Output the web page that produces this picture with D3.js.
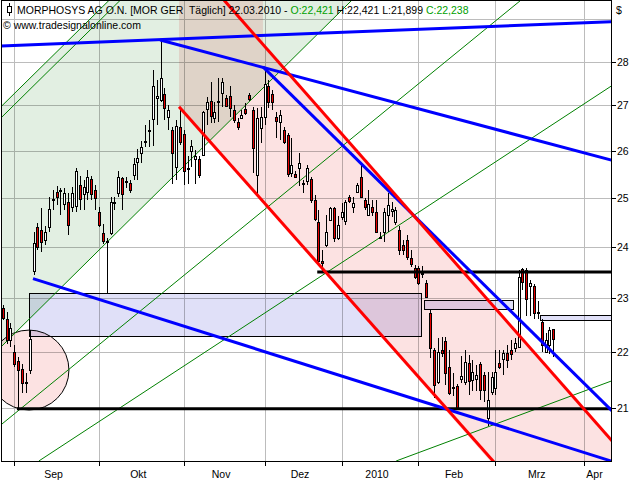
<!DOCTYPE html>
<html><head><meta charset="utf-8">
<script src="https://cdn.jsdelivr.net/npm/d3@7"></script>
<style>
body{margin:0;background:#fff}
svg{display:block}
text{font-family:"Liberation Sans",Arial,sans-serif;font-size:10.5px;fill:#000}
</style>
</head><body><svg id="c" width="640" height="480"></svg>
<script>
// ---- candle data (trading-day index 0 = 27.08.2009) ----
const open=[22.82,22.61,22.22,22.0,21.83,21.69,21.46,21.67,23.52,24.41,
24.35,24.14,24.42,24.95,25.13,25.15,24.89,24.91,24.81,24.82,
25.28,25.1,25.13,25.4,25.17,24.71,24.28,24.13,24.28,24.9,
25.11,25.41,25.34,25.31,25.47,25.76,25.95,26.2,26.43,26.7,
27.16,27.12,27.26,26.75,26.46,25.66,26.52,26.36,25.61,26.0,
25.82,25.83,25.91,26.92,27.1,26.72,27.07,27.28,27.16,27.21,
26.9,26.62,26.72,26.92,27.24,26.9,25.49,26.5,26.74,27.43,
27.26,26.74,26.64,26.46,26.35,25.54,25.51,25.63,25.29,25.35,
25.4,24.96,24.5,23.73,24.04,24.55,24.79,24.18,24.62,24.52,
25.03,24.82,25.14,25.45,24.95,24.65,24.82,24.72,24.2,24.31,
24.65,24.72,24.52,24.35,24.04,24.14,23.78,23.59,23.59,23.46,
23.29,22.72,22.03,21.45,22.03,22.19,21.73,21.35,21.39,21.5,
21.46,21.79,21.48,21.5,21.78,21.58,20.82,21.28,21.34,21.8,
21.87,21.98,22.04,22.06,22.09,23.57,23.54,23.24,23.24,22.72,
22.55,22.0,22.12,22.421];
const high=[22.87,22.73,22.53,22.12,21.9,21.77,21.62,22.4,24.31,24.49,
24.8,24.42,25.03,25.17,25.25,25.2,25.21,25.1,25.23,25.63,
25.47,25.38,25.59,25.47,25.28,24.82,24.47,24.18,25.03,25.03,
25.56,25.45,25.45,25.38,25.84,26.05,26.21,26.57,26.67,27.8,
27.58,28.51,27.4,27.0,26.53,26.68,26.94,26.46,25.88,26.24,
26.02,25.88,26.88,27.2,27.52,27.08,27.62,27.62,27.24,27.43,
27.0,26.72,26.9,27.05,27.28,26.97,26.94,26.97,27.85,27.58,
27.35,26.86,26.9,26.53,26.39,26.27,25.56,25.95,25.38,25.7,
25.45,25.06,24.76,23.94,24.65,24.82,24.82,24.62,24.89,24.96,
25.06,25.03,25.31,25.7,24.99,25.17,24.96,24.96,24.31,24.79,
25.1,24.92,24.82,24.42,24.14,24.24,23.94,23.65,23.63,23.62,
23.35,22.78,22.06,22.25,22.28,22.28,22.03,21.62,21.42,21.93,
22.03,21.94,21.85,21.76,21.82,21.64,21.64,21.64,22.03,22.03,
22.03,22.12,22.21,22.25,23.55,23.59,23.59,23.35,23.28,22.94,
22.6,22.34,22.45,22.421];
const low=[22.59,22.15,22.09,21.73,20.96,21.26,21.26,21.59,23.45,23.94,
23.91,24.04,24.31,24.76,24.86,24.65,24.76,24.25,24.72,24.72,
24.76,24.76,24.96,24.96,24.76,24.4,24.06,23.1,24.25,24.76,
25.03,24.76,25.21,25.1,25.38,25.38,25.74,26.09,26.09,26.1,
26.57,27.08,26.68,26.46,25.3,25.38,26.13,25.28,25.3,25.66,
25.3,25.42,25.88,26.57,26.61,26.6,26.64,26.97,26.97,26.75,
26.6,26.46,26.72,26.79,27.1,25.53,25.07,26.17,26.57,26.94,
26.9,26.28,26.24,26.15,25.45,25.45,25.42,25.25,25.1,25.27,
24.9,24.52,23.65,23.52,24.01,24.52,24.11,24.14,24.55,24.45,
24.89,24.69,25.1,25.0,24.76,24.62,24.62,24.28,24.18,24.11,
24.31,24.6,24.44,23.85,23.85,23.75,23.61,23.37,23.25,23.39,
23.0,21.89,21.17,21.42,21.9,21.4,21.22,21.2,20.96,21.43,
21.4,21.22,21.3,21.3,21.14,21.1,20.68,21.22,21.22,21.68,
21.58,21.7,21.85,21.99,22.06,23.15,22.66,22.66,22.6,22.6,
22.0,21.98,21.95,21.899];
const close=[22.63,22.21,22.44,21.78,21.67,21.44,21.44,22.23,24.08,24.0,
24.1,24.31,24.78,24.97,25.03,25.17,25.11,24.44,25.1,25.56,
24.99,25.24,25.45,25.08,25.01,24.44,24.11,24.12,24.91,24.92,
25.45,25.08,25.36,25.16,25.71,25.84,26.08,26.22,26.45,27.44,
27.21,27.62,26.95,26.9,25.95,26.55,26.2,25.56,25.63,26.1,
25.88,25.49,26.85,27.07,26.77,26.86,27.09,27.53,26.99,26.94,
26.68,26.5,26.79,26.84,27.15,26.06,26.72,26.75,27.49,27.07,
27.07,26.66,26.79,26.2,25.51,25.7,25.45,25.74,25.31,25.63,
24.95,24.57,23.72,23.7,24.31,24.79,24.18,24.45,24.72,24.92,
24.95,24.9,25.28,25.03,24.8,24.87,24.72,24.31,24.19,24.72,
24.86,24.77,24.76,23.94,23.94,23.81,23.67,23.41,23.29,23.48,
23.03,22.06,21.4,22.0,21.97,21.61,21.26,21.37,20.99,21.56,
21.82,21.46,21.63,21.58,21.31,21.31,21.14,21.55,21.63,21.72,
21.98,21.85,21.97,22.16,23.42,23.32,22.97,23.3,22.72,22.74,
22.13,22.22,22.4,22.238];

// ---- axes ----
const priceTicks=[21,22,23,24,25,26,27,28];
const gridPrices=[21,22,23,24,25,26,27,28,29];
const monthTickIdx=[3,25,47,68,88,108,128,151];
const monthLabels=["Sep","Okt","Nov","Dez","2010","Feb","Mrz","Apr"];

// ---- drawing objects [index0, price0, index1, price1] ----
const blueLines=[[-0.4,28.37,158.5,28.95],[40.9,28.51,158.5,25.79],[67.6,27.88,158.5,20.93],[7.87,23.38,160,20.05]];
const redLines=[[57.5,29.47,160,20.3],[45.8,26.97,130,19.9]];
const blackLines=[[3.7,20.98,160,20.98],[81.7,23.51,160,23.51]];
const greenLines=[[-0.7,22.07,90.7,29.47],[-0.7,20.69,134.6,29.47],[9.4,20.09,160,27.55],[102.2,20.09,160,21.52],[-0.7,26.95,27.66,29.47],[-0.7,26.7,30.55,29.47]];
const greenArea=[[-0.7,26.95],[27.66,29.47],[90.7,29.47],[-0.7,22.07]];
const pinkArea=[[45.8,29.6],[67.6,29.6],[67.6,28.41],[160,20.3],[160,19.9],[127.8,20.0],[45.8,26.97]];
const boxes=[[6.9,23.1,108.8,22.28],[109.5,22.97,132.6,22.79],[139.5,22.69,160,22.6]];
const circleMark={i:6.83,top:22.4,bottom:20.96};

const svg=d3.select("#c");
const L=1,R=611,T=1,B=461;
const x=d3.scaleLinear().domain([0,151]).range([2.7,584.05]);
const y=d3.scaleLog().domain([21,28]).range([407.7,61.7]);

svg.append("defs").append("clipPath").attr("id","plot")
  .append("rect").attr("x",L).attr("y",T).attr("width",R-L).attr("height",B-T);

const g=svg.append("g").attr("clip-path","url(#plot)");
// grid
g.selectAll(".hg").data(gridPrices).join("line")
  .attr("x1",L).attr("x2",R).attr("y1",d=>Math.round(y(d))+0.5).attr("y2",d=>Math.round(y(d))+0.5)
  .attr("stroke","#bcbcbc").attr("stroke-width",1);
g.selectAll(".vg").data(monthTickIdx).join("line")
  .attr("y1",T).attr("y2",B).attr("x1",d=>Math.round(x(d))+0.5).attr("x2",d=>Math.round(x(d))+0.5)
  .attr("stroke","#bcbcbc").attr("stroke-width",1);

const pt=d=>[x(d[0]),y(d[1])];
const lineGen=d3.line();
// shaded areas
g.append("path").attr("d",lineGen(greenArea.map(pt))+"Z").attr("fill","rgb(226,239,226)").style("mix-blend-mode","multiply");
g.append("path").attr("d",lineGen(pinkArea.map(pt))+"Z").attr("fill","rgb(252,226,226)").style("mix-blend-mode","multiply");
// boxes
g.selectAll(".box").data(boxes).join("rect")
  .attr("x",d=>Math.round(x(d[0]))+0.5).attr("y",d=>Math.round(y(d[1]))+0.5)
  .attr("width",d=>Math.round(x(d[2])-x(d[0]))).attr("height",d=>Math.round(y(d[3])-y(d[1])))
  .attr("fill","rgb(224,224,248)").attr("stroke","#000").attr("stroke-width",1).style("mix-blend-mode","multiply");
// circle
{
  const cy=(y(circleMark.top)+y(circleMark.bottom))/2, r=(y(circleMark.bottom)-y(circleMark.top))/2;
  g.append("circle").attr("cx",x(circleMark.i)).attr("cy",cy).attr("r",r)
   .attr("fill","rgb(252,226,226)").attr("stroke","#000").attr("stroke-width",1).style("mix-blend-mode","multiply");
}
// green thin lines
g.selectAll(".gl").data(greenLines).join("line")
  .attr("x1",d=>x(d[0])).attr("y1",d=>y(d[1])).attr("x2",d=>x(d[2])).attr("y2",d=>y(d[3]))
  .attr("stroke","#008000").attr("stroke-width",1);

// candles
const idx=d3.range(open.length);
const cg=g.append("g").attr("shape-rendering","crispEdges");
cg.selectAll(".wick").data(idx).join("line")
  .attr("x1",i=>Math.round(x(i))+0.5).attr("x2",i=>Math.round(x(i))+0.5)
  .attr("y1",i=>y(high[i])).attr("y2",i=>y(low[i]))
  .attr("stroke","#000").attr("stroke-width",1);
cg.selectAll(".body").data(idx).join("rect")
  .attr("x",i=>Math.round(x(i))-0.5).attr("width",2)
  .attr("y",i=>Math.round(y(Math.max(open[i],close[i])))+0.5)
  .attr("height",i=>Math.max(1,Math.round(Math.abs(y(open[i])-y(close[i])))))
  .attr("fill",i=>close[i]>=open[i]?"#fff":"#e60000")
  .attr("stroke","#000").attr("stroke-width",1);

// thick lines
const thick=(data,color)=>g.append("g").selectAll("line").data(data).join("line")
  .attr("x1",d=>x(d[0])).attr("y1",d=>y(d[1])).attr("x2",d=>x(d[2])).attr("y2",d=>y(d[3]))
  .attr("stroke",color).attr("stroke-width",3);
thick(blackLines,"#000");
thick(blueLines,"#0000ff");
thick(redLines,"#ff0000");

// frame
svg.append("rect").attr("x",L+0.5).attr("y",T-0.5).attr("width",R-L).attr("height",B-T+1)
  .attr("fill","none").attr("stroke","#000").attr("stroke-width",1).attr("shape-rendering","crispEdges");

// y axis
const ya=svg.append("g").attr("shape-rendering","crispEdges");
ya.selectAll("line").data(priceTicks).join("line")
  .attr("x1",R+1).attr("x2",R+5).attr("y1",d=>Math.round(y(d))+0.5).attr("y2",d=>Math.round(y(d))+0.5).attr("stroke","#000");
svg.selectAll(".yl").data(priceTicks).join("text")
  .attr("x",R+6).attr("y",d=>y(d)+4).text(d=>d);
svg.append("text").attr("x",R+5).attr("y",14).text("$");

// x axis
const xa=svg.append("g").attr("shape-rendering","crispEdges");
xa.selectAll("line").data(monthTickIdx).join("line")
  .attr("x1",d=>Math.round(x(d))+0.5).attr("x2",d=>Math.round(x(d))+0.5).attr("y1",B+1).attr("y2",B+5).attr("stroke","#000");
svg.selectAll(".xl").data(monthLabels).join("text")
  .attr("text-anchor","middle").attr("y",478)
  .attr("x",(d,k)=>{const a=x(monthTickIdx[k]);const b=k+1<monthTickIdx.length?x(monthTickIdx[k+1]):R;return (a+b)/2-3;})
  .text(d=>d);

// title
const ic=svg.append("g").attr("shape-rendering","crispEdges");
ic.append("line").attr("x1",9.5).attr("x2",9.5).attr("y1",3).attr("y2",16).attr("stroke","#000");
ic.append("rect").attr("x",7.5).attr("y",6.5).attr("width",4).attr("height",6).attr("fill","#fff").attr("stroke","#000");
const t=svg.append("text").attr("x",17).attr("y",14);
t.append("tspan").text("MORPHOSYS AG O.N. [MOR GER  Täglich] 22.03.2010 - ").style("white-space","pre");
t.append("tspan").text("O:22,421").style("fill","#00a000");
t.append("tspan").text(" H:22,421 L:21,899 ").style("white-space","pre");
t.append("tspan").text("C:22,238").style("fill","#00a000");
svg.append("text").attr("x",3).attr("y",29).text("© www.tradesignalonline.com");
</script>
</body></html>
